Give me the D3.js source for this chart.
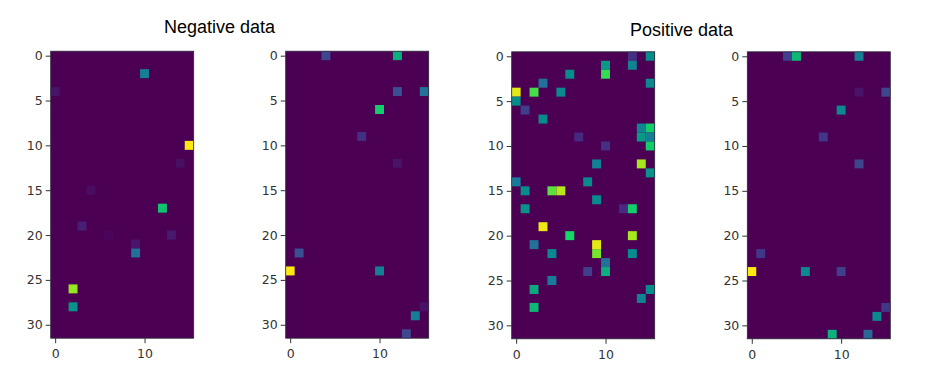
<!DOCTYPE html>
<html>
<head>
<meta charset="utf-8">
<script src="https://cdn.jsdelivr.net/npm/d3@7"></script>
<style>
  html, body { margin: 0; padding: 0; background: #fff; }
  svg { display: block; }
</style>
</head>
<body>
<svg width="940" height="390"></svg>
<script>
// each cell is [column, row, value 0..1]; everything else in a panel is zero
const negA = [[10,2,.42],[0,4,.06],[15,10,1],[14,12,.04],[4,15,.04],[12,17,.68],[3,19,.1],[13,20,.08],
  [6,20,.02],[9,21,.07],[9,22,.35],[2,26,.88],[2,28,.52]];
const negB = [[4,0,.22],[12,0,.62],[12,4,.25],[15,4,.35],[10,6,.72],[8,9,.15],[12,12,.06],[1,22,.25],
  [0,24,1],[10,24,.42],[15,28,.06],[14,29,.4],[13,31,.22]];
const posA = [[13,0,.15],[15,0,.5],[10,1,.55],[13,1,.45],[10,2,.78],[6,2,.5],[15,3,.48],[3,3,.35],
  [0,4,.97],[2,4,.8],[5,4,.47],[0,5,.5],[1,6,.2],[3,7,.5],[14,8,.45],[15,8,.72],[7,9,.13],[14,9,.55],
  [15,9,.42],[10,10,.15],[15,10,.72],[9,12,.42],[14,12,.9],[15,13,.52],[0,14,.38],[8,14,.5],[1,15,.5],
  [4,15,.82],[5,15,.92],[9,16,.5],[1,17,.52],[12,17,.13],[13,17,.72],[3,19,.98],[6,20,.75],[13,20,.9],
  [2,21,.35],[9,21,.97],[4,22,.48],[9,22,.85],[13,22,.5],[10,23,.35],[8,24,.2],[10,24,.62],[4,25,.38],
  [2,26,.6],[15,26,.5],[14,27,.45],[2,28,.65]];
const posB = [[4,0,.2],[5,0,.65],[12,0,.4],[12,4,.06],[15,4,.22],[10,6,.47],[8,9,.17],[12,12,.22],
  [1,22,.17],[0,24,1],[6,24,.47],[10,24,.2],[15,28,.17],[14,29,.47],[9,31,.63],[13,31,.32]];
const panelData = [negA, negB, posA, posB];
const panelLeft = [50.7, 285.7, 511.7, 747.3];
const panelTop = [51.2, 51.2, 51.8, 51.8];
const xTicks = [0, 10];
const yTicks = [0, 5, 10, 15, 20, 25, 30];
const titles = ['Negative data', 'Positive data'];
const titleX = [164, 630];
const titleY = [33, 36];

// the screenshot's viridis came out more saturated than the stock one
const cmapStops = ['#4b0053', '#46287f', '#3b4f93', '#1a7a9a', '#078c8c', '#0bb07c', '#14d864', '#8fe820', '#fde910'];
const cmap = d3.scaleLinear().domain(d3.range(cmapStops.length).map(i => i / (cmapStops.length - 1)))
  .range(cmapStops);

const svg = d3.select('svg');
const PW = 143, PH = 287;
const xs = d3.scaleLinear().domain([-0.5, 15.5]).range([0, PW]);
const ys = d3.scaleLinear().domain([-0.5, 31.5]).range([0, PH]);
const cw = xs(1) - xs(0), ch = ys(1) - ys(0);

panelData.forEach((cells, i) => {
  const g = svg.append('g').attr('transform', `translate(${panelLeft[i]},${panelTop[i]})`);
  g.append('rect').attr('width', PW).attr('height', PH).attr('fill', cmap(0));
  g.selectAll('rect.cell').data(cells).join('rect').attr('class', 'cell')
    .attr('x', d => xs(d[0] - 0.5)).attr('y', d => ys(d[1] - 0.5))
    .attr('width', cw).attr('height', ch)
    .attr('fill', d => cmap(d[2]));

  const ax = g.append('g').attr('transform', `translate(0,${PH})`)
    .call(d3.axisBottom(xs).tickValues(xTicks).tickSize(5).tickPadding(6));
  const ay = g.append('g')
    .call(d3.axisLeft(ys).tickValues(yTicks).tickSize(5).tickPadding(3));
  [ax, ay].forEach(a => {
    a.selectAll('.domain').remove();
    a.selectAll('line').attr('stroke', '#333');
    a.selectAll('text').attr('fill', '#333').attr('font-family', 'DejaVu Sans').attr('font-size', 12.5);
  });
  g.append('rect').attr('width', PW).attr('height', PH)
    .attr('fill', 'none').attr('stroke', '#2a2a3a').attr('stroke-width', 0.8);
});

svg.selectAll('text.title').data(titles).join('text').attr('class', 'title')
  .attr('x', (d, i) => titleX[i]).attr('y', (d, i) => titleY[i])
  .attr('font-family', 'Liberation Sans').attr('font-size', 18).attr('fill', '#000')
  .text(d => d);
</script>
</body>
</html>
